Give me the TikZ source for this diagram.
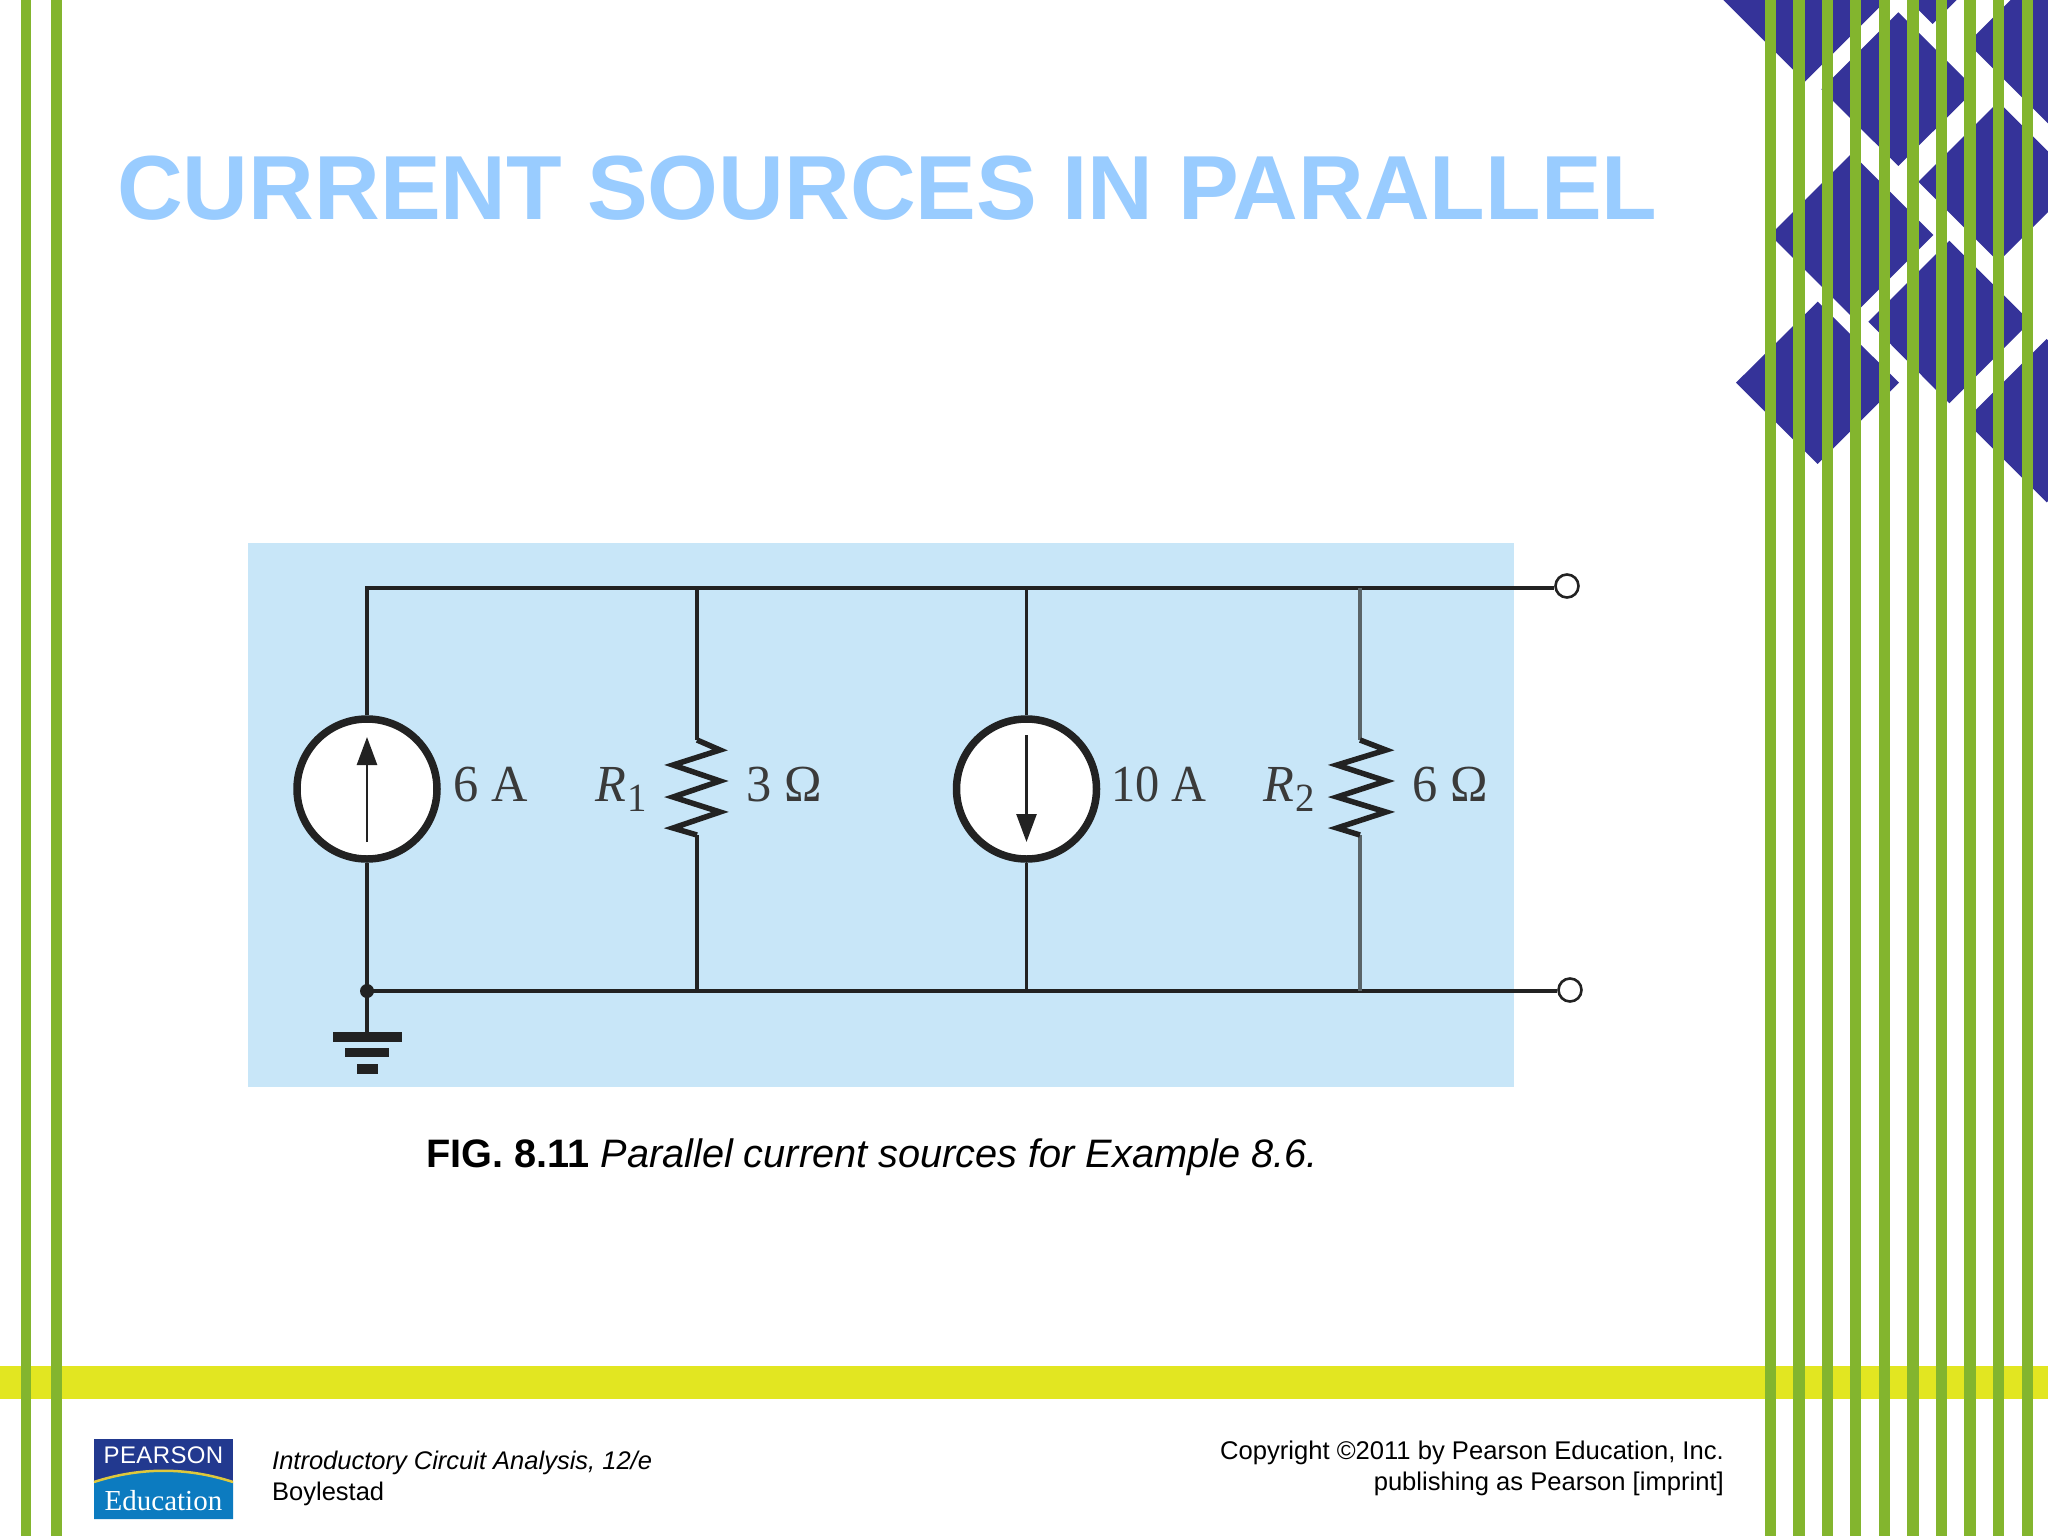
\documentclass[tikz,border=0pt]{standalone}
\usepackage{fontspec}
\usetikzlibrary{arrows.meta}
\setmainfont{Liberation Sans}
\newfontfamily\serifl{Liberation Serif}
\newfontfamily\pearsonf[LetterSpace=1.5]{Liberation Sans}
\definecolor{stripe}{HTML}{83B52E}
\definecolor{band}{HTML}{E2E621}
\definecolor{diam}{HTML}{353399}
\definecolor{titleblue}{HTML}{99CCFF}
\definecolor{panel}{HTML}{C8E6F8}
\definecolor{wire}{HTML}{222222}
\definecolor{graywire}{HTML}{5A6468}
\definecolor{lab}{HTML}{3A3A3A}
\newcommand{\clab}[1]{\scalebox{.93}[1]{#1}}
\newcommand{\dlab}[1]{\scalebox{.97}[1]{#1}}
\tikzset{
  stripeline/.style={fill=stripe,draw=none},
  gem/.style={fill=diam,draw=none},
  wireline/.style={draw=wire,line width=3.6pt},
  grayline/.style={draw=graywire,line width=3.6pt},
  zig/.style={draw=wire,line width=5.5pt,line join=miter,miter limit=6},
  source/.style={circle,draw=wire,fill=white,line width=7.5pt,minimum size=140pt,inner sep=0pt},
  terminal/.style={circle,draw=wire,fill=white,line width=2.6pt,minimum size=23pt,inner sep=0pt},
  clabel/.style={anchor=base west,inner sep=0pt,text=lab,font=\serifl\fontsize{52}{52}\selectfont},
  arrowline/.style={draw=wire,line width=2.6pt,-{Triangle[width=20pt,length=28pt]}},
  plain/.style={anchor=base west,inner sep=0pt,text=black}
}
\begin{document}
\begin{tikzpicture}[x=1pt,y=-1pt]
\useasboundingbox (0,0) rectangle (2048,1536);
\fill[white] (0,0) rectangle (2048,1536);
% decorative diamonds
\begin{scope}
\clip (0,0) rectangle (2048,1536);
\begin{scope}[shift={(1700,0)},x=0.33333pt,y=-0.33333pt]
\fill[gem] (70,0)--(315,245)--(560,0)--cycle;
\fill[gem] (595,37)--(826,268)--(595,498)--(364,268)--cycle;
\fill[gem] (626,0)--(698,72)--(770,0)--cycle;
\fill[gem] (932,0)--(803,129)--(1044,370)--(1044,0)--cycle;
\fill[gem] (895,305)--(1135,545)--(895,785)--(655,545)--cycle;
\fill[gem] (455,460)--(700,705)--(455,950)--(210,705)--cycle;
\fill[gem] (748,722)--(991,965)--(748,1210)--(505,965)--cycle;
\fill[gem] (353,905)--(597,1148)--(353,1392)--(108,1148)--cycle;
\fill[gem] (1040,1017)--(1285,1262)--(1040,1507)--(795,1262)--cycle;
\end{scope}
\end{scope}
% band
\fill[band] (0,1366) rectangle (2048,1399);
% stripes
\foreach \xa/\xb in {21/31,51/62}{\fill[stripeline] (\xa,0) rectangle (\xb,1536);}
\foreach \xc in {1770.5,1799,1827.5,1855.7,1884.3,1913,1941.7,1970,1998.3,2027.3}{
  \fill[stripeline] (\xc-5.7,0) rectangle (\xc+5.7,1536);}
% title
\node[plain,text=titleblue,font=\bfseries\fontsize{91}{91}\selectfont] (title) at (117,219) {CURRENT SOURCES IN PARALLEL};
% panel
\fill[panel] (248,543) rectangle (1514,1087);
% circuit nodes
\node[source] (s1) at (367,789) {};
\node[source] (s2) at (1026.5,789) {};
\node[terminal] (t1) at (1567,586) {};
\node[terminal] (t2) at (1570,990) {};
\coordinate (tl) at (367,588);
\coordinate (tr1) at (697,588);
\coordinate (tr2) at (1026.5,588);
\coordinate (tr3) at (1360,588);
\coordinate (bl) at (367,991);
\coordinate (br1) at (697,991);
\coordinate (br2) at (1026.5,991);
\coordinate (br3) at (1360,991);
\coordinate (r1a) at (697,740);
\coordinate (r1b) at (697,835);
\coordinate (r2a) at (1360,740);
\coordinate (r2b) at (1360,835);
\coordinate (g) at (367,1032);
% wires
\draw[wireline] (s1.north) -- (tl) -- (tr1) -- (tr2) -- (tr3) -- (t1.west |- tl);
\draw[wireline] (s1.south) -- (bl) -- (br1) -- (br2) -- (br3) -- (t2.west |- bl);
\draw[wireline] (tr1) -- (r1a);
\draw[wireline] (r1b) -- (br1);
\draw[wireline] (tr2) -- (s2.north);
\draw[wireline] (s2.south) -- (br2);
\draw[grayline] (tr3) -- (r2a);
\draw[grayline] (r2b) -- (br3);
\draw[wireline] (bl) -- (g);
% resistors
\draw[zig] (r1a) -- ++(23,10) -- ++(-47,15) -- ++(47,16) -- ++(-47,16) -- ++(47,15) -- ++(-47,16) -- (r1b);
\draw[zig] (r2a) -- ++(26,10) -- ++(-49,15) -- ++(49,16) -- ++(-49,16) -- ++(49,15) -- ++(-49,16) -- (r2b);
% junction dot
\node[circle,fill=wire,minimum size=14pt,inner sep=0pt] (dot) at (bl) {};
% ground
\fill[wire] (333,1032) rectangle (402,1042);
\fill[wire] (345,1048) rectangle (389,1057);
\fill[wire] (357,1064) rectangle (378,1074);
% source arrows
\coordinate (a1s) at (367,842); \coordinate (a1e) at (367,737);
\coordinate (a2s) at (1026.5,735); \coordinate (a2e) at (1026.5,842);
\draw[arrowline] (a1s) -- (a1e);
\draw[arrowline] (a2s) -- (a2e);
% labels
\node[clabel] (l6a) at (453,801) {\dlab{6 A}};
\node[clabel] (lr1) at (595,801) {\dlab{\itshape R\kern2pt\raisebox{-10pt}{\fontsize{40}{40}\selectfont\upshape 1}}};
\node[clabel] (l3o) at (746,801) {\dlab{3 Ω}};
\node[clabel] (l10a) at (1111,801) {\clab{10 A}};
\node[clabel] (lr2) at (1263,801) {\dlab{\itshape R\kern2pt\raisebox{-10pt}{\fontsize{40}{40}\selectfont\upshape 2}}};
\node[clabel] (l6o) at (1412,801) {\dlab{6 Ω}};
% caption
\node[plain,font=\fontsize{39.7}{40}\selectfont] (cap) at (426,1167) {\textbf{FIG. 8.11} \textit{Parallel current sources for Example 8.6.}};
% logo
\fill[fill={rgb,255:red,34;green,57;blue,143}] (94,1439) rectangle (233,1519);
\fill[fill={rgb,255:red,12;green,123;blue,192}] (94,1482) .. controls (140,1467) and (187,1467) .. (233,1482) -- (233,1519) -- (94,1519) -- cycle;
\draw[draw={rgb,255:red,222;green,200;blue,60},line width=2.5pt] (94,1482) .. controls (140,1467) and (187,1467) .. (233,1482);
\node[anchor=base,inner sep=0pt,text=white,font=\pearsonf\fontsize{24}{24}\selectfont] (lp) at (163.5,1463) {PEARSON};
\node[anchor=base,inner sep=0pt,text=white,font=\serifl\fontsize{29}{29}\selectfont] (le) at (163.5,1510) {Education};
% footer
\node[plain,font=\itshape\fontsize{25.5}{25.5}\selectfont] (f1) at (272,1469) {Introductory Circuit Analysis, 12/e};
\node[plain,font=\fontsize{25.5}{25.5}\selectfont] (f2) at (272,1500) {Boylestad};
\node[anchor=base east,inner sep=0pt,font=\fontsize{25.6}{26}\selectfont] (f3) at (1724,1459) {Copyright ©2011 by Pearson Education, Inc.};
\node[anchor=base east,inner sep=0pt,font=\fontsize{25.6}{26}\selectfont] (f4) at (1724,1490) {publishing as Pearson [imprint]};
\end{tikzpicture}
\end{document}
